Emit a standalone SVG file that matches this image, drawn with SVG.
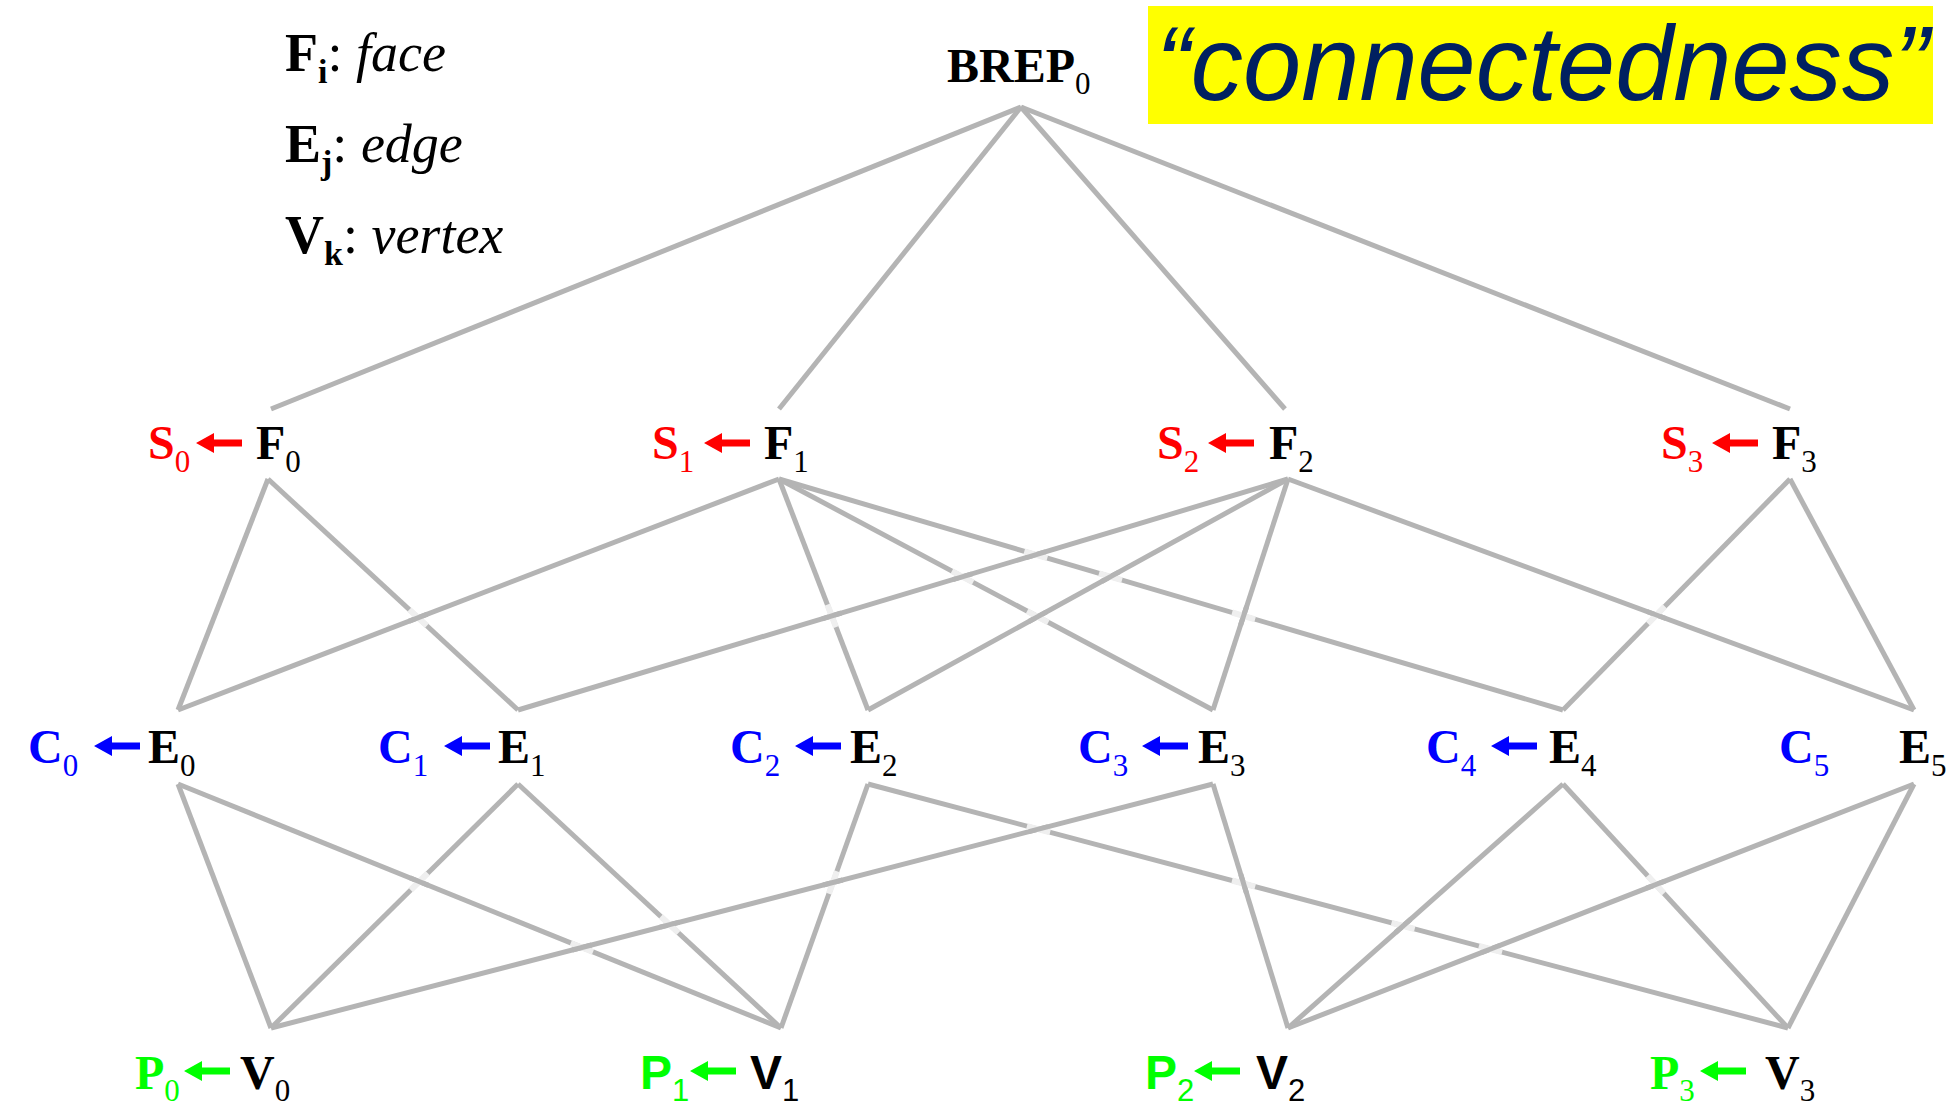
<svg xmlns="http://www.w3.org/2000/svg" xmlns:xlink="http://www.w3.org/1999/xlink" width="1960" height="1110" viewBox="0 0 1960 1110">
  <style>
    .c { stroke: #b4b4b4; stroke-width: 5; fill: none; stroke-linecap: butt; }
    .gap { stroke: #efefef; stroke-width: 6; fill: none; }
    .lbl { font-family: "Liberation Serif", "Times New Roman", serif; font-weight: bold; font-size: 48px; fill: #000; }
    .sans { font-family: "Liberation Sans", Arial, sans-serif; }
    .sub { font-weight: normal; font-size: 31px; }
    .red { fill: #ff0000; }
    .blue { fill: #0000ff; }
    .green { fill: #00ff00; }
    .legend { font-family: "Liberation Serif", "Times New Roman", serif; font-size: 54px; fill: #000; }
    .it { font-style: italic; font-weight: normal; }
  </style>
  <defs>
    <!-- left-pointing block arrow, tip at origin -->
    <path id="arr" d="M0,0 L18,-10 L18,-3.5 L46,-3.5 L46,3.5 L18,3.5 L18,10 Z"/>
  </defs>
  <rect width="1960" height="1110" fill="#ffffff"/>

  <!-- legend -->
  <g id="legend" class="legend">
    <text x="285" y="71"><tspan font-weight="bold">F</tspan><tspan font-weight="bold" font-size="34" dy="12">i</tspan><tspan dy="-12">: </tspan><tspan class="it">face</tspan></text>
    <text x="285" y="162"><tspan font-weight="bold">E</tspan><tspan font-weight="bold" font-size="34" dy="12">j</tspan><tspan dy="-12">: </tspan><tspan class="it">edge</tspan></text>
    <text x="285" y="253"><tspan font-weight="bold">V</tspan><tspan font-weight="bold" font-size="34" dy="12">k</tspan><tspan dy="-12">: </tspan><tspan class="it">vertex</tspan></text>
  </g>

  <!-- title banner -->
  <g id="title">
    <rect x="1148" y="6" width="785" height="118" fill="#ffff00"/>
    <text x="1156" y="100" font-family="'Liberation Sans', Arial, sans-serif" font-style="italic" font-size="106" fill="#002060" textLength="773" lengthAdjust="spacingAndGlyphs">“connectedness”</text>
  </g>

  <!-- connectors -->
  <g id="connectors">
    <!-- BREP to faces -->
    <line class="c" x1="1021" y1="107" x2="271" y2="409"/>
    <line class="c" x1="1021" y1="107" x2="779" y2="409"/>
    <line class="c" x1="1021" y1="107" x2="1285" y2="409"/>
    <line class="c" x1="1021" y1="107" x2="1790" y2="409"/>
    <!-- faces to edges -->
    <line class="c" x1="268" y1="479" x2="178" y2="710"/>
    <line class="c" x1="268" y1="479" x2="518" y2="710"/>
    <line class="c" x1="779" y1="479" x2="178" y2="710"/>
    <line class="c" x1="779" y1="479" x2="868" y2="710"/>
    <line class="c" x1="779" y1="479" x2="1213" y2="710"/>
    <line class="c" x1="779" y1="479" x2="1563" y2="710"/>
    <line class="c" x1="1288" y1="479" x2="518" y2="710"/>
    <line class="c" x1="1288" y1="479" x2="868" y2="710"/>
    <line class="c" x1="1288" y1="479" x2="1213" y2="710"/>
    <line class="c" x1="1288" y1="479" x2="1914" y2="710"/>
    <line class="c" x1="1790" y1="479" x2="1563" y2="710"/>
    <line class="c" x1="1790" y1="479" x2="1914" y2="710"/>
    <!-- edges to vertices -->
    <line class="c" x1="178" y1="784" x2="271" y2="1028"/>
    <line class="c" x1="178" y1="784" x2="781" y2="1028"/>
    <line class="c" x1="518" y1="784" x2="271" y2="1028"/>
    <line class="c" x1="518" y1="784" x2="781" y2="1028"/>
    <line class="c" x1="868" y1="784" x2="781" y2="1028"/>
    <line class="c" x1="868" y1="784" x2="1788" y2="1028"/>
    <line class="c" x1="1213" y1="784" x2="271" y2="1028"/>
    <line class="c" x1="1213" y1="784" x2="1288" y2="1028"/>
    <line class="c" x1="1563" y1="784" x2="1288" y2="1028"/>
    <line class="c" x1="1563" y1="784" x2="1788" y2="1028"/>
    <line class="c" x1="1914" y1="784" x2="1288" y2="1028"/>
    <line class="c" x1="1914" y1="784" x2="1788" y2="1028"/>
    <!-- line jumps: faded piece of the lower line, then the upper line redrawn -->
    <g id="jumps">
      <line class="gap" x1="409.3" y1="609.6" x2="426.9" y2="625.8"/>
      <line class="c" x1="427.4" y1="614.1" x2="408.8" y2="621.3"/>
      <line class="gap" x1="827.4" y1="604.7" x2="836.0" y2="627.1"/>
      <line class="c" x1="841.3" y1="613.0" x2="822.1" y2="618.8"/>
      <line class="gap" x1="951.9" y1="571.1" x2="973.1" y2="582.3"/>
      <line class="c" x1="972.1" y1="573.8" x2="952.9" y2="579.6"/>
      <line class="gap" x1="1027.1" y1="611.1" x2="1048.3" y2="622.3"/>
      <line class="c" x1="1046.5" y1="611.9" x2="1028.9" y2="621.5"/>
      <line class="gap" x1="1024.3" y1="551.3" x2="1047.3" y2="558.1"/>
      <line class="c" x1="1045.4" y1="551.8" x2="1026.2" y2="557.6"/>
      <line class="gap" x1="1099.0" y1="573.3" x2="1122.0" y2="580.1"/>
      <line class="c" x1="1119.3" y1="571.9" x2="1101.7" y2="581.5"/>
      <line class="gap" x1="1232.1" y1="612.5" x2="1255.1" y2="619.3"/>
      <line class="c" x1="1246.7" y1="606.4" x2="1240.5" y2="625.4"/>
      <line class="gap" x1="1664.8" y1="606.4" x2="1648.0" y2="623.6"/>
      <line class="c" x1="1647.0" y1="611.5" x2="1665.8" y2="618.5"/>
      <line class="gap" x1="427.7" y1="873.2" x2="410.7" y2="890.0"/>
      <line class="c" x1="409.9" y1="877.8" x2="428.5" y2="885.4"/>
      <line class="gap" x1="570.8" y1="943.0" x2="593.0" y2="952.0"/>
      <line class="c" x1="591.6" y1="945.0" x2="572.2" y2="950.0"/>
      <line class="gap" x1="660.9" y1="916.5" x2="678.5" y2="932.9"/>
      <line class="c" x1="679.4" y1="922.2" x2="660.0" y2="927.2"/>
      <line class="gap" x1="836.9" y1="871.2" x2="828.9" y2="893.8"/>
      <line class="c" x1="842.6" y1="880.0" x2="823.2" y2="885.0"/>
      <line class="gap" x1="1026.9" y1="826.1" x2="1050.1" y2="832.3"/>
      <line class="c" x1="1048.2" y1="826.7" x2="1028.8" y2="831.7"/>
      <line class="gap" x1="1232.0" y1="880.5" x2="1255.2" y2="886.7"/>
      <line class="c" x1="1240.7" y1="874.0" x2="1246.5" y2="893.2"/>
      <line class="gap" x1="1391.5" y1="922.8" x2="1414.7" y2="929.0"/>
      <line class="c" x1="1410.6" y1="919.3" x2="1395.6" y2="932.5"/>
      <line class="gap" x1="1478.9" y1="946.0" x2="1502.1" y2="952.2"/>
      <line class="c" x1="1499.8" y1="945.5" x2="1481.2" y2="952.7"/>
      <line class="gap" x1="1647.7" y1="875.8" x2="1663.9" y2="893.4"/>
      <line class="c" x1="1665.1" y1="881.0" x2="1646.5" y2="888.2"/>
    </g>
  </g>

  <!-- root -->
  <g id="node-BREP0">
    <text class="lbl" x="947" y="82" font-size="46">BREP<tspan class="sub" font-size="30" dy="12">0</tspan></text>
  </g>

  <!-- faces -->
  <g id="node-F0">
    <text class="lbl red" x="148" y="459">S<tspan class="sub" dy="13">0</tspan></text>
    <use xlink:href="#arr" href="#arr" x="196" y="443" fill="#ff0000"/>
    <text class="lbl" x="256" y="459">F<tspan class="sub" dy="13">0</tspan></text>
  </g>
  <g id="node-F1">
    <text class="lbl red" x="652" y="459">S<tspan class="sub" dy="13">1</tspan></text>
    <use xlink:href="#arr" href="#arr" x="704" y="443" fill="#ff0000"/>
    <text class="lbl" x="764" y="459">F<tspan class="sub" dy="13">1</tspan></text>
  </g>
  <g id="node-F2">
    <text class="lbl red" x="1157" y="459">S<tspan class="sub" dy="13">2</tspan></text>
    <use xlink:href="#arr" href="#arr" x="1208" y="443" fill="#ff0000"/>
    <text class="lbl" x="1269" y="459">F<tspan class="sub" dy="13">2</tspan></text>
  </g>
  <g id="node-F3">
    <text class="lbl red" x="1661" y="459">S<tspan class="sub" dy="13">3</tspan></text>
    <use xlink:href="#arr" href="#arr" x="1712" y="443" fill="#ff0000"/>
    <text class="lbl" x="1772" y="459">F<tspan class="sub" dy="13">3</tspan></text>
  </g>

  <!-- edges -->
  <g id="node-E0">
    <text class="lbl blue" x="28" y="763">C<tspan class="sub" dy="13">0</tspan></text>
    <use xlink:href="#arr" href="#arr" x="94" y="746" fill="#0000ff"/>
    <text class="lbl" x="148" y="763">E<tspan class="sub" dy="13">0</tspan></text>
  </g>
  <g id="node-E1">
    <text class="lbl blue" x="378" y="763">C<tspan class="sub" dy="13">1</tspan></text>
    <use xlink:href="#arr" href="#arr" x="444" y="746" fill="#0000ff"/>
    <text class="lbl" x="498" y="763">E<tspan class="sub" dy="13">1</tspan></text>
  </g>
  <g id="node-E2">
    <text class="lbl blue" x="730" y="763">C<tspan class="sub" dy="13">2</tspan></text>
    <use xlink:href="#arr" href="#arr" x="795" y="746" fill="#0000ff"/>
    <text class="lbl" x="850" y="763">E<tspan class="sub" dy="13">2</tspan></text>
  </g>
  <g id="node-E3">
    <text class="lbl blue" x="1078" y="763">C<tspan class="sub" dy="13">3</tspan></text>
    <use xlink:href="#arr" href="#arr" x="1142" y="746" fill="#0000ff"/>
    <text class="lbl" x="1198" y="763">E<tspan class="sub" dy="13">3</tspan></text>
  </g>
  <g id="node-E4">
    <text class="lbl blue" x="1426" y="763">C<tspan class="sub" dy="13">4</tspan></text>
    <use xlink:href="#arr" href="#arr" x="1491" y="746" fill="#0000ff"/>
    <text class="lbl" x="1549" y="763">E<tspan class="sub" dy="13">4</tspan></text>
  </g>
  <g id="node-E5">
    <text class="lbl blue" x="1779" y="763">C<tspan class="sub" dy="13">5</tspan></text>
    <text class="lbl" x="1899" y="763">E<tspan class="sub" dy="13">5</tspan></text>
  </g>

  <!-- vertices -->
  <g id="node-V0">
    <text class="lbl green" x="135" y="1089">P<tspan class="sub" dy="12">0</tspan></text>
    <use xlink:href="#arr" href="#arr" x="184" y="1071" fill="#00ff00"/>
    <text class="lbl" x="240" y="1089">V<tspan class="sub" dy="12">0</tspan></text>
  </g>
  <g id="node-V1">
    <text class="lbl sans green" x="640" y="1089">P<tspan class="sub" dy="12">1</tspan></text>
    <use xlink:href="#arr" href="#arr" x="690" y="1071" fill="#00ff00"/>
    <text class="lbl sans" x="750" y="1089">V<tspan class="sub" dy="12">1</tspan></text>
  </g>
  <g id="node-V2">
    <text class="lbl sans green" x="1145" y="1089">P<tspan class="sub" dy="12">2</tspan></text>
    <use xlink:href="#arr" href="#arr" x="1194" y="1071" fill="#00ff00"/>
    <text class="lbl sans" x="1256" y="1089">V<tspan class="sub" dy="12">2</tspan></text>
  </g>
  <g id="node-V3">
    <text class="lbl green" x="1650" y="1089">P<tspan class="sub" dy="12">3</tspan></text>
    <use xlink:href="#arr" href="#arr" x="1700" y="1071" fill="#00ff00"/>
    <text class="lbl" x="1765" y="1089">V<tspan class="sub" dy="12">3</tspan></text>
  </g>
</svg>
